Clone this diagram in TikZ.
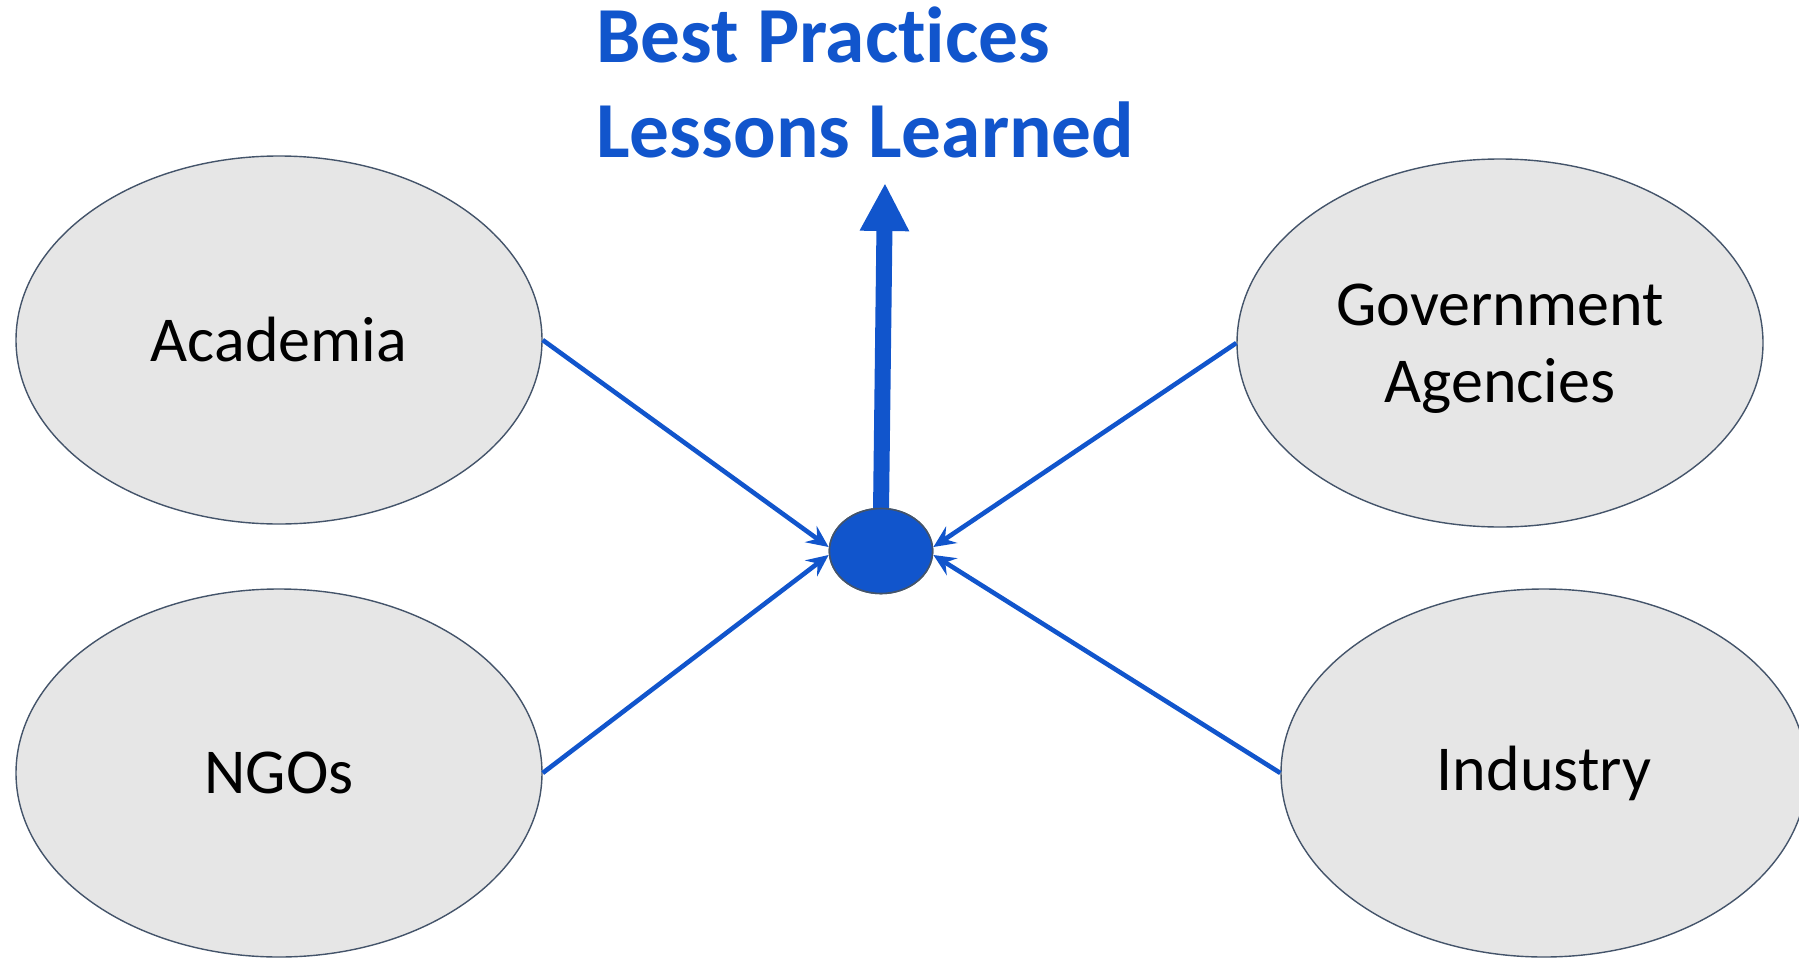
\documentclass[tikz,border=0pt]{standalone}
\usepackage{fontspec}
\setmainfont{Carlito}[Ligatures=NoCommon]
\usetikzlibrary{shapes.geometric,arrows.meta,calc}
\definecolor{bl}{HTML}{1155CC}
\definecolor{ef}{HTML}{E6E6E6}
\definecolor{ed}{HTML}{44546A}
\begin{document}
\begin{tikzpicture}[x=0.5pt,y=-0.5pt,
  party/.style={ellipse, fill=ef, draw=ed, line width=0.7pt, minimum width=263pt, minimum height=184pt, inner sep=0pt, font=\fontsize{32}{38.5}\selectfont, align=center},
  link/.style={draw=bl, line width=2.3pt, -{Stealth[length=11pt,width=10pt,inset=4pt]}},
  titletext/.style={anchor=base west, inner sep=0pt, text=bl, font=\bfseries\fontsize{39.7}{47}\selectfont}]
\useasboundingbox (0,0) rectangle (1799,958);
\node[party] (acad) at (279,340) {Academia};
\node[party] (ngo) at (279,773) {NGOs};
\node[party, text depth=0pt] (gov) at (1500,343) {Government\\Agencies};
\node[party] (ind) at (1544,773) {Industry};
\node[ellipse, fill=bl, draw=ed, line width=0.8pt, minimum width=51.6pt, minimum height=42.5pt, inner sep=0pt] (hub) at (881,551) {};
\coordinate (tip) at (885,183);
\draw[bl, line width=8pt, -{Triangle[length=24pt,width=23pt]}] ($(hub.north)+(0,4)$) -- (tip);
\node[ellipse, fill=bl, draw=ed, line width=0.8pt, minimum width=51.6pt, minimum height=42.5pt, inner sep=0pt] at (hub) {};
\draw[link] (acad.east) -- ($(hub.west)+(0,-4)$);
\draw[link] (ngo.east) -- ($(hub.west)+(0,4)$);
\draw[link] (gov.west) -- ($(hub.east)+(0,-4)$);
\draw[link] (ind.west) -- ($(hub.east)+(0,4)$);
\node[titletext] (t1) at (596,62) {Best Practices};
\node[titletext] (t2) at (596,157) {Lessons Learned};
\end{tikzpicture}
\end{document}
